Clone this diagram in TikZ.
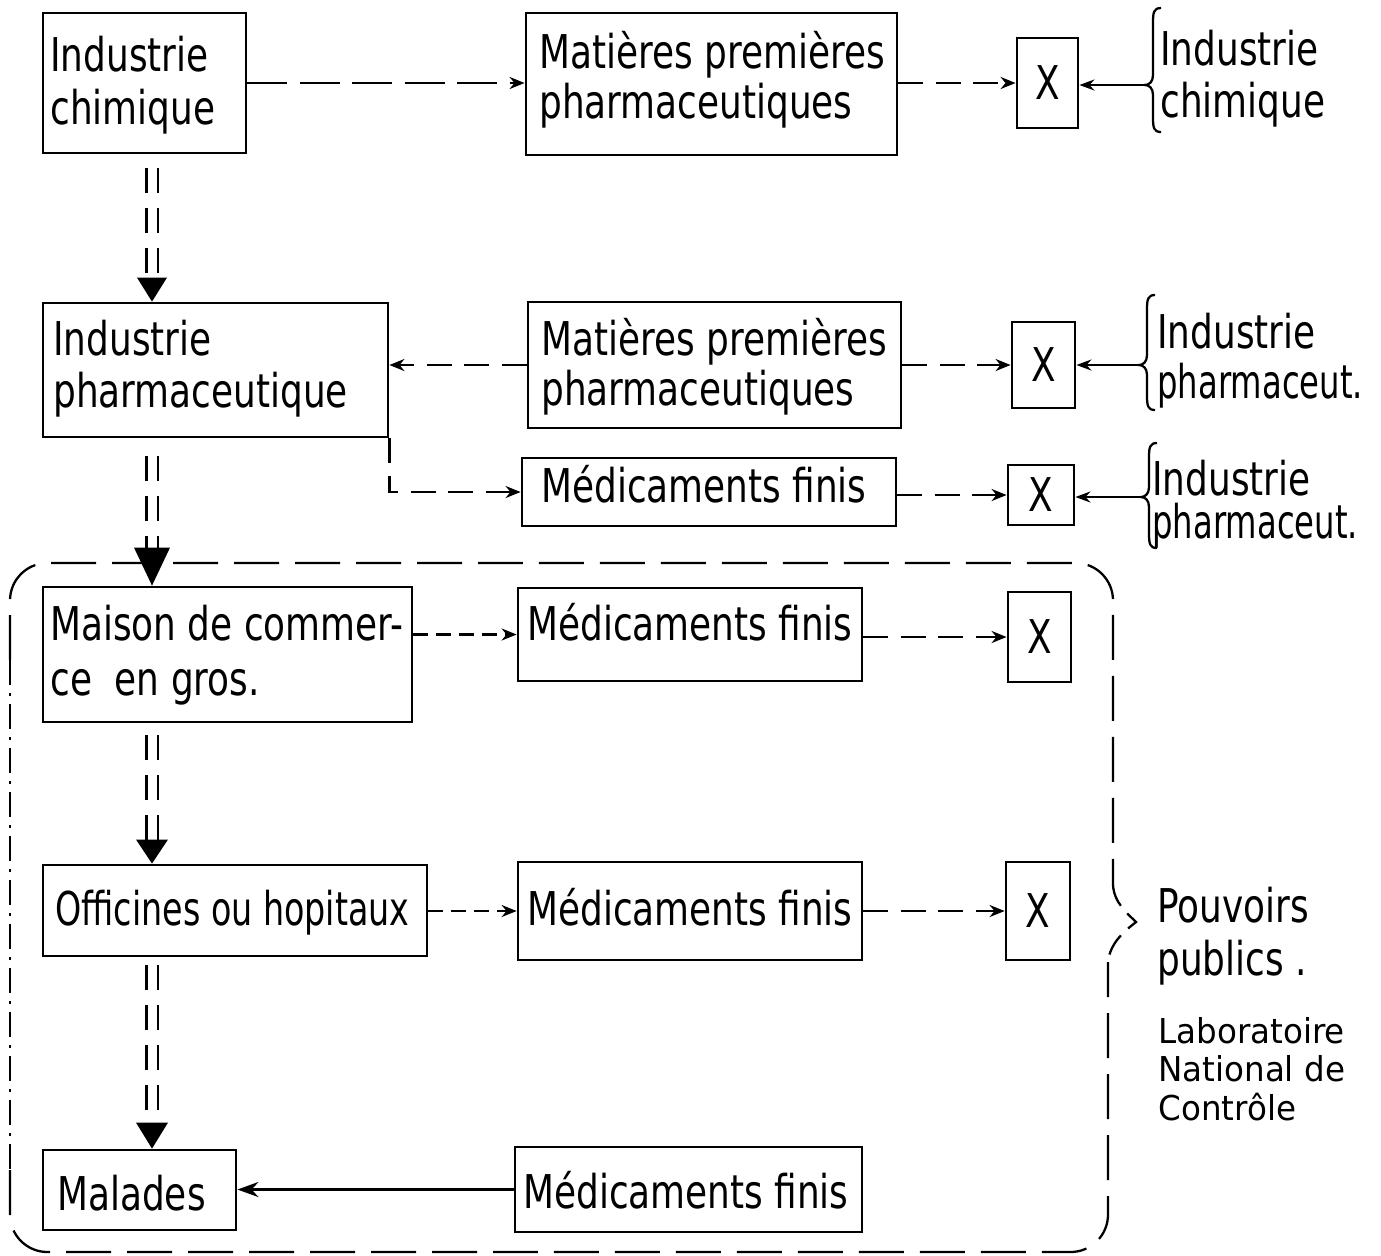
\documentclass[tikz,border=0pt]{standalone}
\usepackage{fontspec}
\usepackage{graphicx}
\setmainfont[FakeStretch=0.77]{DejaVu Sans}
\newfontfamily\notefont[FakeStretch=0.95]{DejaVu Sans}
\usetikzlibrary{arrows.meta,calc,fit}

% left curly brace whose point is the named coordinate #1;
% #2 = extent above the point, #3 = extent below it (in picture units)
\newcommand{\curlyb}[3]{%
  \draw[bracestyle]
    ($(#1)+(16,-#2)$) .. controls ($(#1)+(9,-#2)$) and ($(#1)+(8,-#2+4)$) .. ($(#1)+(8,-#2+14)$)
    -- ($(#1)+(8,-10)$) .. controls ($(#1)+(8,-3)$) and ($(#1)+(4,0)$) .. (#1)
    .. controls ($(#1)+(4,0)$) and ($(#1)+(8,3)$) .. ($(#1)+(8,10)$)
    -- ($(#1)+(8,#3-14)$) .. controls ($(#1)+(8,#3-4)$) and ($(#1)+(9,#3)$) .. ($(#1)+(16,#3)$);}

\begin{document}
\begin{tikzpicture}[x=0.02cm,y=-0.02cm,
  box/.style={draw,line width=1.6pt,inner sep=0pt,rectangle},
  lbl/.style={inner sep=0pt,anchor=base west,font=\fontsize{26.5}{28}\selectfont},
  xmark/.style={inner sep=0pt,font=\fontsize{26.5}{28}\selectfont},
  note/.style={inner sep=0pt,anchor=base west,font=\notefont\fontsize{19.5}{21}\selectfont},
  flow/.style={line width=1.4pt,-{Stealth[length=0.3cm,width=0.24cm]}},
  longdash/.style={dash pattern=on 0.8cm off 0.25cm},
  middash/.style={dash pattern=on 0.5cm off 0.25cm},
  shortdash/.style={dash pattern=on 0.3cm off 0.16cm},
  feed/.style={line width=1.4pt,-{Stealth[length=0.3cm,width=0.22cm]}},
  spinepair/.style={line width=1.5pt,double,double distance=0.18cm,dash pattern=on 0.5cm off 0.3cm},
  frameline/.style={line width=1.3pt,dash pattern=on 0.9cm off 0.32cm},
  frameleft/.style={line width=1.3pt,dash pattern=on 0.5cm off 0.16cm on 0.06cm off 0.16cm},
  bracestyle/.style={line width=1.3pt},
]
\useasboundingbox (0,0) rectangle (1381,1255);

% ---- boxes ----
\node[box,fit={(43,13) (246,153)}] (ic1) {};
\node[box,fit={(526,13) (897,155)}] (mp1) {};
\node[box,fit={(1017,38) (1078,128)}] (x1) {};
\node[box,fit={(43,303) (388,437)}] (ip) {};
\node[box,fit={(528,302) (901,428)}] (mp2) {};
\node[box,fit={(1012,322) (1075,408)}] (x2) {};
\node[box,fit={(522,458) (896,526)}] (mf1) {};
\node[box,fit={(1008,465) (1074,525)}] (x3) {};
\node[box,fit={(43,587) (412,722)}] (mcg) {};
\node[box,fit={(518,588) (862,681)}] (mf2) {};
\node[box,fit={(1008,592) (1071,682)}] (x4) {};
\node[box,fit={(43,865) (427,956)}] (oh) {};
\node[box,fit={(518,862) (862,960)}] (mf3) {};
\node[box,fit={(1006,862) (1070,960)}] (x5) {};
\node[box,fit={(43,1150) (236,1230)}] (mal) {};
\node[box,fit={(515,1147) (862,1232)}] (mf4) {};

% ---- box texts ----
\node[lbl] (ic1a) at (50,71) {Industrie};
\node[lbl] (ic1b) at (50,124) {chimique};
\node[lbl] (mp1a) at (539,68) {Matières premières};
\node[lbl] (mp1b) at (539,118) {pharmaceutiques};
\node[lbl] (ipa) at (53,355) {Industrie};
\node[lbl] (ipb) at (53,407) {pharmaceutique};
\node[lbl] (mp2a) at (541,355) {Matières premières};
\node[lbl] (mp2b) at (541,405) {pharmaceutiques};
\node[lbl] (mf1a) at (541,502) {Médicaments finis};
\node[lbl] (mcga) at (50,640) {Maison de commer-};
\node[lbl] (mcgb) at (50,695) {ce\ \ en gros.};
\node[lbl] (mf2a) at (527,640) {Médicaments finis};
\node[lbl] (oha) at (55,925) {\scalebox{0.93}[1]{Officines ou hopitaux}};
\node[lbl] (mf3a) at (527,925) {Médicaments finis};
\node[lbl] (mala) at (57,1210) {Malades};
\node[lbl] (mf4a) at (523,1208) {Médicaments finis};
\foreach \b in {x1,x2,x3,x4,x5} \node[xmark] (\b t) at (\b.center) {X};

% ---- braced sources on the right ----
\node[lbl] (s1a) at (1160,65) {Industrie};
\node[lbl] (s1b) at (1160,117) {chimique};
\node[lbl] (s2a) at (1157,348) {Industrie};
\node[lbl] (s2b) at (1157,398) {\scalebox{0.9}[1]{pharmaceut.}};
\node[lbl] (s3a) at (1152,495) {Industrie};
\node[lbl] (s3b) at (1152,538) {\scalebox{0.9}[1]{pharmaceut.}};
\coordinate (t1) at (1145,85);
\coordinate (t2) at (1139,365);
\coordinate (t3) at (1141,497);
\curlyb{t1}{77}{47}
\curlyb{t2}{70}{45}
\curlyb{t3}{54}{51}

% ---- control authority ----
\node[lbl] (pp1) at (1157,922) {Pouvoirs};
\node[lbl] (pp2) at (1157,975) {publics .};
\node[note] (ln1) at (1158,1043) {Laboratoire};
\node[note] (ln2) at (1158,1081) {National de};
\node[note] (ln3) at (1158,1120) {Contrôle};

% ---- main vertical chain (double shafts) ----
\coordinate (spine) at (152,0);
\draw[spinepair] ($(spine |- ic1.south)+(0,14)$) -- ($(spine |- ip.north)+(0,-24)$);
\fill ($(spine |- ip.north)+(-15,-24)$) -- ($(spine |- ip.north)+(15,-24)$) -- (spine |- ip.north) -- cycle;
\draw[spinepair] ($(spine |- ip.south)+(0,18)$) -- ($(spine |- mcg.north)+(0,-38)$);
\fill ($(spine |- mcg.north)+(-18,-38)$) -- ($(spine |- mcg.north)+(18,-38)$) -- (spine |- mcg.north) -- cycle;
\draw[spinepair] ($(spine |- mcg.south)+(0,12)$) -- ($(spine |- oh.north)+(0,-24)$);
\fill ($(spine |- oh.north)+(-16,-24)$) -- ($(spine |- oh.north)+(16,-24)$) -- (spine |- oh.north) -- cycle;
\draw[spinepair] ($(spine |- oh.south)+(0,8)$) -- ($(spine |- mal.north)+(0,-26)$);
\fill ($(spine |- mal.north)+(-16,-26)$) -- ($(spine |- mal.north)+(16,-26)$) -- (spine |- mal.north) -- cycle;

% ---- horizontal flows ----
\draw[flow,longdash] (ic1.east) -- (ic1.east -| mp1.west);
\draw[flow,middash] (mp1.east |- x1.west) -- (x1.west);
\draw[feed] (t1) -- (t1 -| x1.east);
\draw[flow,middash] (mp2.west) -- (mp2.west -| ip.east);
\draw[flow,middash] (mp2.east |- x2.west) -- (x2.west);
\draw[feed] (t2) -- (t2 -| x2.east);
\draw[flow,middash] (ip.south east) |- (mf1.west);
\draw[flow,middash] (mf1.east |- x3.west) -- (x3.west);
\draw[feed] (t3) -- (t3 -| x3.east);
\draw[flow,shortdash] (mf2.west -| mcg.east) -- (mf2.west);
\draw[flow,middash] (mf2.east |- x4.west) -- (x4.west);
\draw[flow,shortdash] (oh.east |- mf3.west) -- (mf3.west);
\draw[flow,middash] (mf3.east |- x5.west) -- (x5.west);
\draw[line width=1.6pt,-{Stealth[length=0.42cm,width=0.3cm]}] (mf4.west) -- (mf4.west -| mal.east);

% ---- dashed enclosure of the distribution chain ----
\draw[frameline,rounded corners=0.75cm] (10,660) -- (10,563) -- (1113,563) -- (1113,885);
\draw[frameleft] (10,660) -- (10,1170);
\draw[frameline,rounded corners=0.75cm] (10,1170) -- (10,1252) -- (1108,1252) -- (1108,962);
\draw[line width=1.3pt,dash pattern=on 0.45cm off 0.2cm] (1113,885) .. controls (1114,903) and (1128,914) .. (1136,922)
  .. controls (1126,930) and (1110,942) .. (1108,962);
\end{tikzpicture}
\end{document}
